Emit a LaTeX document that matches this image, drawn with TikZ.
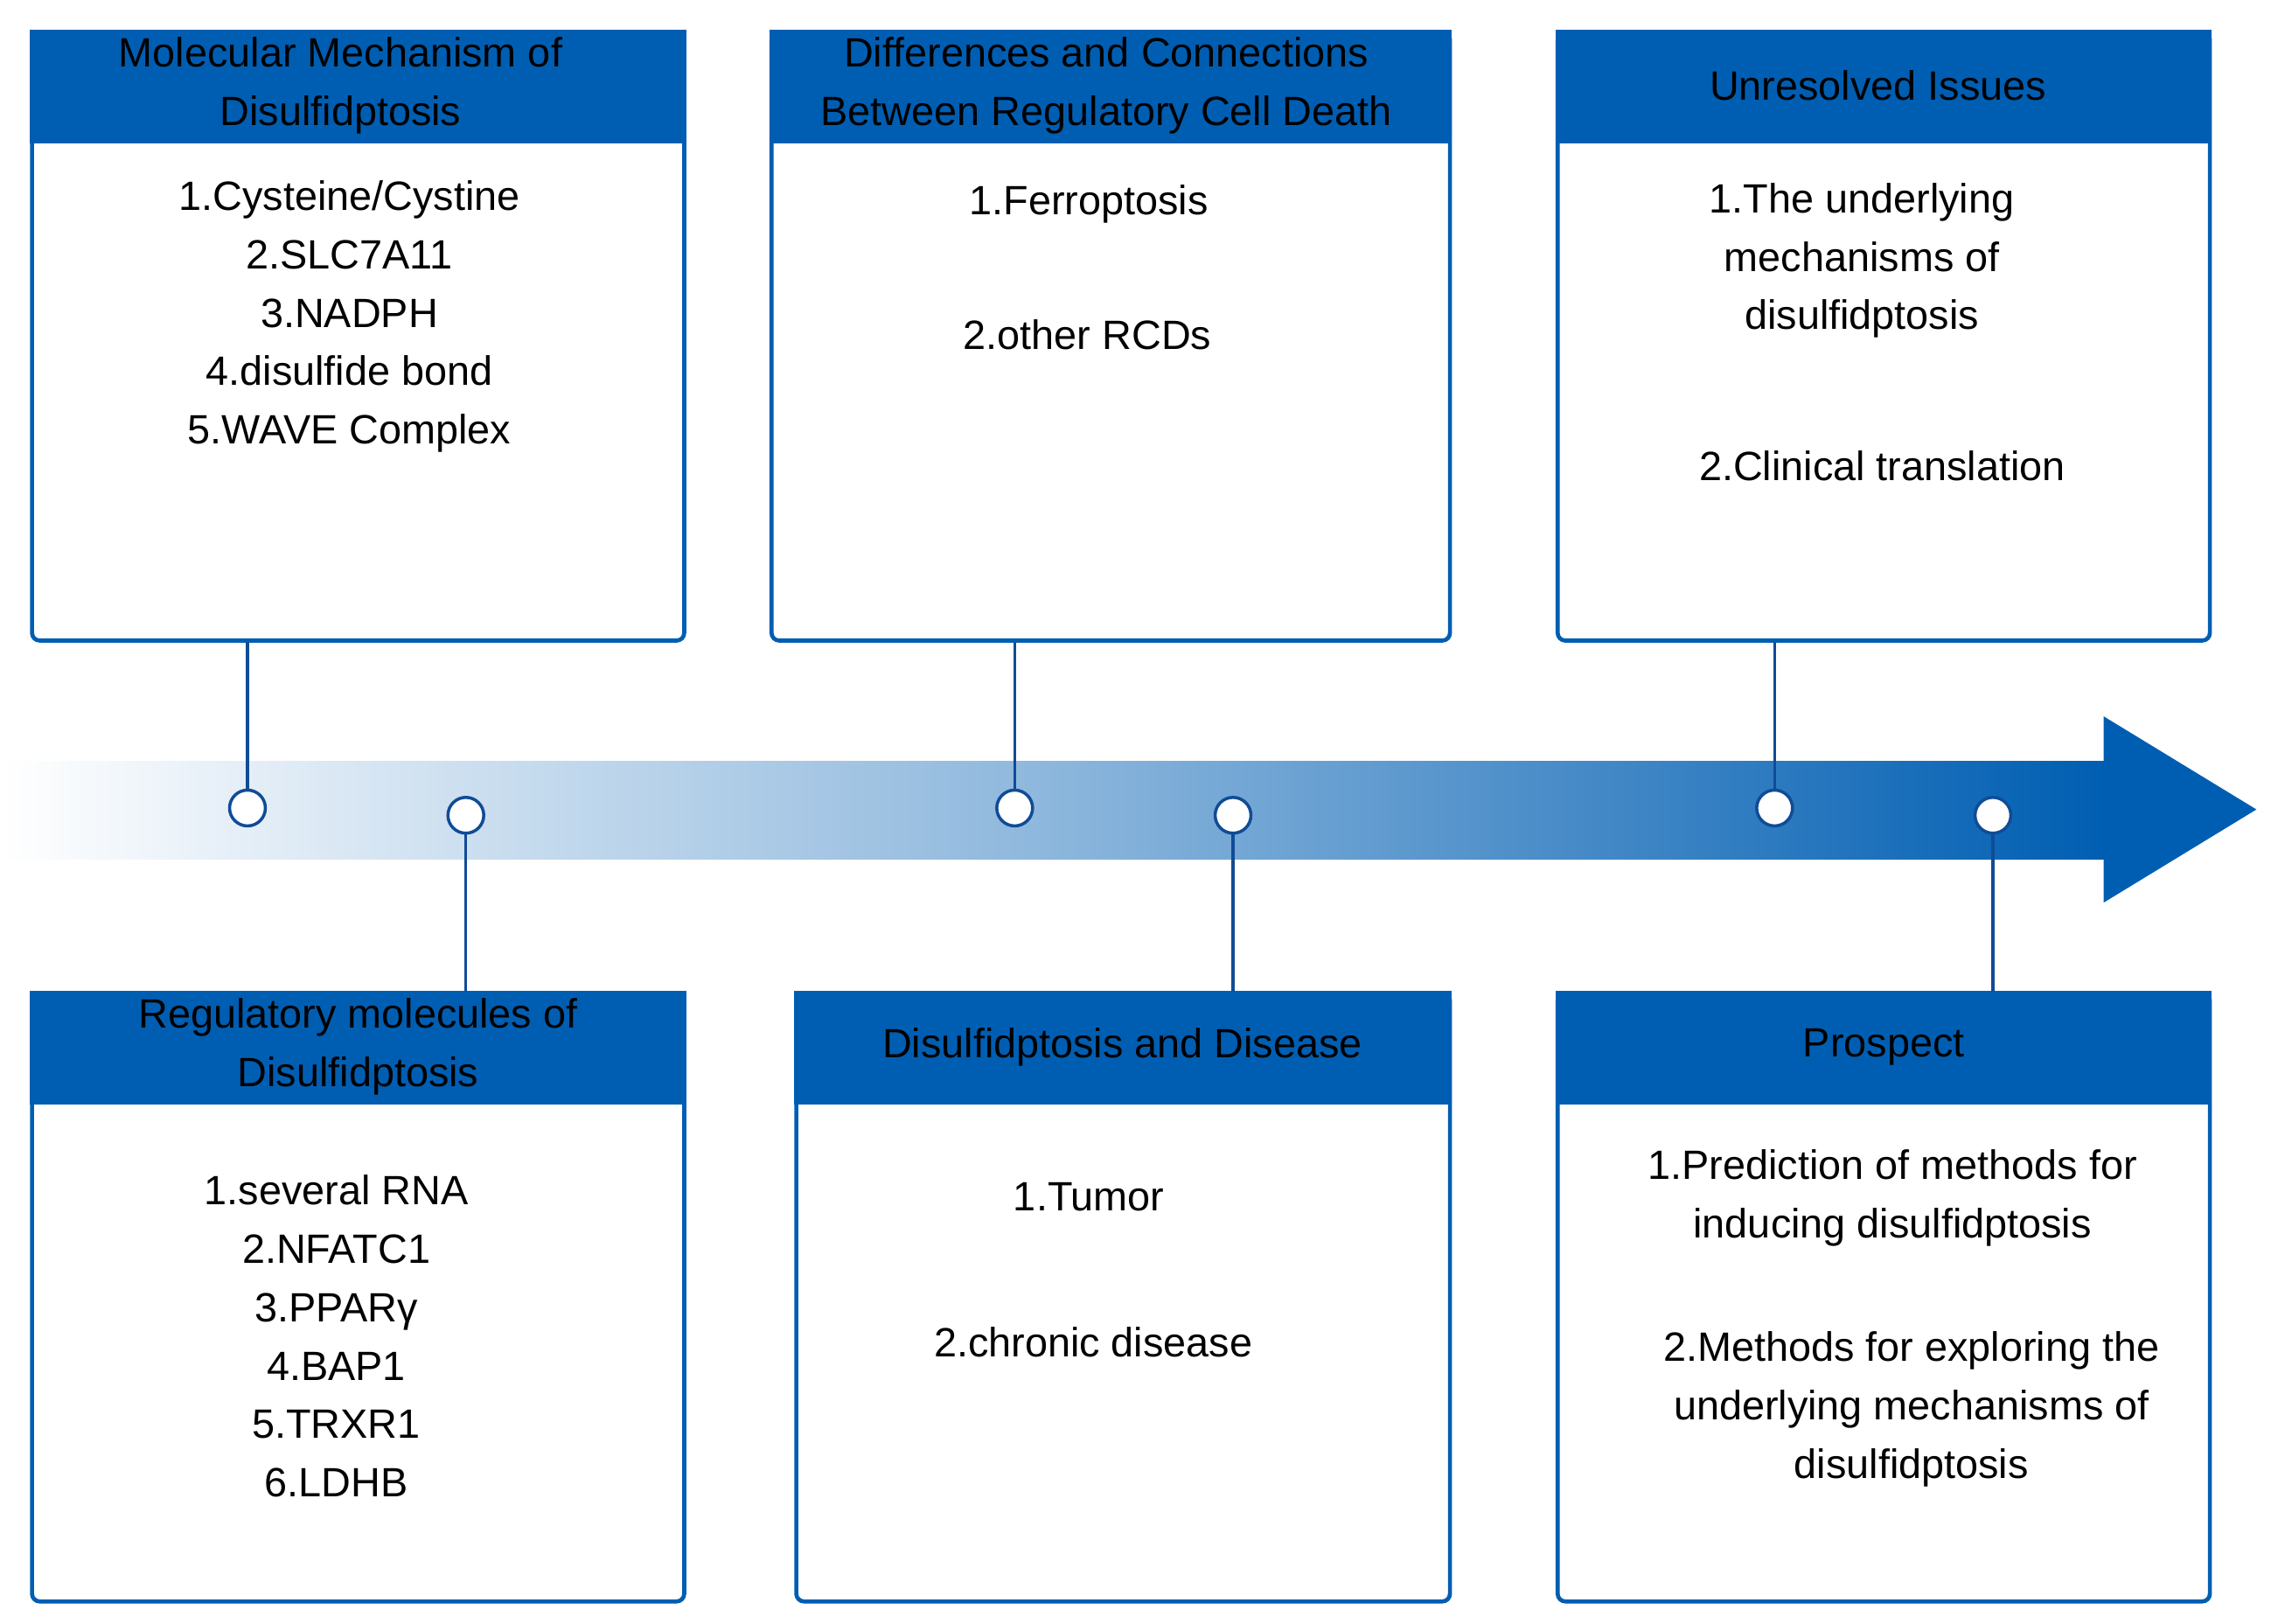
\documentclass[tikz,border=0pt]{standalone}
\usepackage{fontspec}
\setmainfont{Liberation Sans}
\usetikzlibrary{positioning}
\definecolor{hdblue}{RGB}{0,94,178}
\definecolor{lnblue}{RGB}{16,76,150}
\tikzset{
  box/.style = {draw=hdblue, line width=1.6pt, rounded corners=3pt},
  head/.style = {fill=hdblue, draw=hdblue, line width=1.6pt},
  txt/.style = {align=center, inner sep=0pt, font=\fontsize{16}{22.8}\selectfont},
  pin/.style = {circle, draw=lnblue, fill=white, line width=1.2pt, minimum size=14pt, inner sep=0pt},
  link/.style = {draw=lnblue, line width=1.2pt},
}
\begin{document}
\begin{tikzpicture}[x=0.02cm,y=-0.02cm]
\useasboundingbox (0,0) rectangle (1560,1115);
% arrow
\shade[left color=white, right color=hdblue, middle color=hdblue!45] (0,523) rectangle (1446,590);
\fill[hdblue] (1445,492) -- (1550,556) -- (1445,620) -- cycle;
% top boxes
\foreach \x/\w/\n in {22/448/a, 530/466/b, 1070/448/c}{
  \draw[box] (\x,22) rectangle ++(\w,418);
  \draw[head] (\x,22) rectangle ++(\w,75);
  \coordinate (\n) at (\x,0);
}
% bottom boxes
\foreach \x/\w/\n in {22/448/d, 547/449/e, 1070/448/f}{
  \draw[box] (\x,682) rectangle ++(\w,418);
  \draw[head] (\x,682) rectangle ++(\w,75);
}
% headers
\node[txt] (ha) at (234,59) {Molecular Mechanism of\\Disulfidptosis};
\node[txt] (hb) at (760,59) {Differences and Connections\\Between Regulatory Cell Death};
\node[txt] (hc) at (1290,59) {Unresolved Issues};
\node[txt] (hd) at (246,719) {Regulatory molecules of\\Disulfidptosis};
\node[txt] (he) at (771,719) {Disulfidptosis and Disease};
\node[txt] (hf) at (1294,719) {Prospect};
% contents
\node[txt, anchor=north] (ta) at (240,124) {1.Cysteine/Cystine\\2.SLC7A11\\3.NADPH\\4.disulfide bond\\5.WAVE Complex};
\node[txt] (tb1) at (748,140) {1.Ferroptosis};
\node[txt] (tb2) at (747,230) {2.other RCDs};
\node[txt] (tc1) at (1279,179) {1.The underlying\\mechanisms of\\disulfidptosis};
\node[txt] (tc2) at (1293,320) {2.Clinical translation};
\node[txt, anchor=north] (td) at (231,807) {1.several RNA\\2.NFATC1\\3.PPAR\char"03B3\\4.BAP1\\5.TRXR1\\6.LDHB};
\node[txt] (te1) at (748,822) {1.Tumor};
\node[txt] (te2) at (751,922) {2.chronic disease};
\node[txt] (tf1) at (1300,823) {1.Prediction of methods for\\inducing disulfidptosis};
\node[txt] (tf2) at (1313,968) {2.Methods for exploring the\\underlying mechanisms of\\disulfidptosis};
% pins
\node[pin] (pa) at (170,555) {};
\node[pin] (pb) at (697,555) {};
\node[pin] (pc) at (1219,555) {};
\node[pin] (pd) at (320,560) {};
\node[pin] (pe) at (847,560) {};
\node[pin] (pf) at (1369,560) {};
\coordinate (ba) at (170,441);
\coordinate (bb) at (697,441);
\coordinate (bc) at (1219,441);
\coordinate (bd) at (320,681);
\coordinate (be) at (847,681);
\coordinate (bf) at (1369,681);
\foreach \n in {a,b,c,d,e,f}{
  \draw[link] (b\n) -- (p\n);
}
\end{tikzpicture}
\end{document}
